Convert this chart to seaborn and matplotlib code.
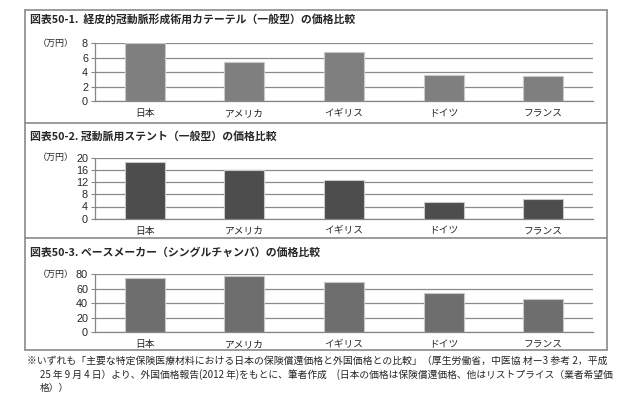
import matplotlib
matplotlib.use("Agg")
import matplotlib.pyplot as plt
import seaborn as sns
from matplotlib.lines import Line2D

sns.set_theme(style="white")
plt.rcParams['font.family'] = ['Noto Sans CJK JP', 'DejaVu Sans']

categories = ["日本", "アメリカ", "イギリス", "ドイツ", "フランス"]
catheter = [8.0, 5.35, 6.75, 3.6, 3.45]
stent = [18.5, 16.1, 12.6, 5.6, 6.4]
pacemaker = [74.4, 77.2, 69.4, 53.6, 45.8]

titles = [
    "図表50-1.  経皮的冠動脈形成術用カテーテル（一般型）の価格比較",
    "図表50-2. 冠動脈用ステント（一般型）の価格比較",
    "図表50-3. ペースメーカー（シングルチャンバ）の価格比較",
]
yticks_list = [[0, 2, 4, 6, 8], [0, 4, 8, 12, 16, 20], [0, 20, 40, 60, 80]]
unit_label = "（万円）"
note_lines = [
    "※いずれも「主要な特定保険医療材料における日本の保険償還価格と外国価格との比較」（厚生労働省，中医協 材ー3 参考 2，平成",
    "25 年 9 月 4 日）より、外国価格報告(2012 年)をもとに、筆者作成　(日本の価格は保険償還価格、他はリストプライス（業者希望価",
    "格））",
]

W, H = 630, 400
fig = plt.figure(figsize=(W / 100, H / 100), dpi=100)

def fx(px):
    return px / W

def fy(py):
    return 1 - py / H

# axes placements (pixel coords: left, right, top(value max), bottom(0))
placements = [(95, 593, 43.3, 101), (95, 593, 157.7, 218.7), (95, 593, 274.3, 332)]
colors = ["#7f7f7f", "#4d4d4d", "#6e6e6e"]
datas = [catheter, stent, pacemaker]
title_y = [19, 136, 252]
unit_y = [43, 157, 274]

for i in range(3):
    l, r, t, b = placements[i]
    ax = fig.add_axes([fx(l), fy(b), fx(r - l), (b - t) / H])
    sns.barplot(x=categories, y=datas[i], color=colors[i], width=0.4, saturation=1,
                edgecolor="#c8c8c8", linewidth=0.8, ax=ax, zorder=3)
    yt = yticks_list[i]
    ax.set_ylim(0, yt[-1])
    ax.set_xlim(-0.5, 4.5)
    ax.set_yticks(yt)
    ax.set_yticklabels([str(v) for v in yt], fontsize=7.8, family=['Liberation Sans', 'DejaVu Sans'])
    ax.yaxis.grid(True, color="#8a8a8a", linewidth=0.9)
    ax.set_axisbelow(True)
    ax.set_xticks(range(5))
    ax.set_xticklabels(categories, fontsize=7)
    ax.set_xticks([k - 0.5 for k in range(6)], minor=True)
    ax.tick_params(axis="x", which="major", length=0, pad=5)
    ax.tick_params(axis="x", which="minor", length=3, color="#868686", width=0.8, direction="out")
    ax.tick_params(axis="y", length=3, color="#868686", width=0.8, direction="out", pad=2, left=True)
    for s in ["top", "right"]:
        ax.spines[s].set_visible(False)
    for s in ["left", "bottom"]:
        ax.spines[s].set_color("#868686")
        ax.spines[s].set_linewidth(0.9)
    ax.set_xlabel("")
    ax.set_ylabel("")
    fig.text(fx(30), fy(title_y[i]), titles[i], fontsize=7.8, fontweight="bold",
             va="center", ha="left")
    fig.text(fx(38), fy(unit_y[i]), unit_label, fontsize=6.5, va="center", ha="left")

# frame lines
fc = "#8a8a8a"
for y in [10, 123, 238, 350]:
    fig.add_artist(Line2D([fx(25), fx(607)], [fy(y), fy(y)], color=fc, lw=1.2))
for x in [25, 607]:
    fig.add_artist(Line2D([fx(x), fx(x)], [fy(10), fy(350)], color=fc, lw=1.2))

# note
fig.text(fx(27), fy(361), note_lines[0], fontsize=7.1, va="center", ha="left")
fig.text(fx(40), fy(375), note_lines[1], fontsize=7.0, va="center", ha="left")
fig.text(fx(40), fy(388), note_lines[2], fontsize=7.0, va="center", ha="left")

fig.savefig("out.png", dpi=100, facecolor="white")
